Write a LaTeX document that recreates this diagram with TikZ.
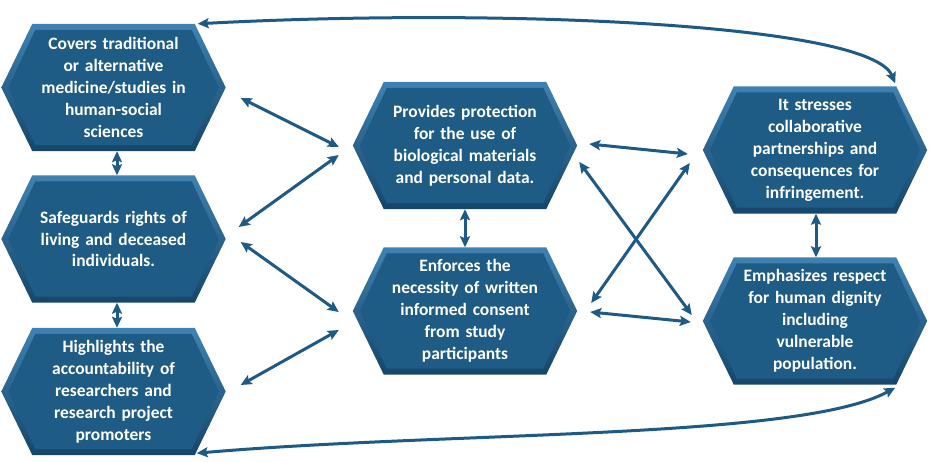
\documentclass[tikz,border=0pt]{standalone}
\usepackage{fontspec}
\setmainfont{Carlito}
\usepackage{tikz}
\usetikzlibrary{arrows.meta,positioning,backgrounds}
\definecolor{hxblue}{HTML}{1E5C86}
\definecolor{hxlight}{HTML}{3F82B2}
\definecolor{hxdark}{HTML}{15466A}
\definecolor{arblue}{HTML}{1D5A86}

\begin{document}
\begin{tikzpicture}[x=1bp,y=-1bp,
  hexa/.style={minimum width=224bp,minimum height=127bp,inner sep=0pt,text width=190bp,align=center,text=white,font=\fontsize{17.5}{22}\selectfont\bfseries},
  ar/.style={{Stealth[length=11bp,width=10bp,inset=2bp]}-{Stealth[length=11bp,width=10bp,inset=2bp]},arblue,line width=3bp}]
\useasboundingbox (0,0) rectangle (936,462);
\node[hexa] (cov) at (113.5,87.5) {Covers traditional\\or alternative\\medicine/studies in\\human-social\\sciences};
\node[hexa] (saf) at (113.5,239) {Safeguards rights of\\living and deceased\\individuals.};
\node[hexa] (acc) at (113.5,391.5) {Highlights the\\accountability of\\researchers and\\research project\\promoters};
\node[hexa] (pro) at (465,145.5) {Provides protection\\for the use of\\biological materials\\and personal data.};
\node[hexa] (enf) at (465,311) {Enforces the\\necessity of written\\informed consent\\from study\\participants};
\node[hexa] (str) at (815,150) {It stresses\\collaborative\\partnerships and\\consequences for\\infringement.};
\node[hexa] (emp) at (815,321) {Emphasizes respect\\for human dignity\\including\\vulnerable\\population.};
\begin{scope}[on background layer]
\foreach \n in {cov,saf,acc,pro,enf,str,emp}{
  \shade[top color=hxlight,bottom color=hxdark] (\n.west) -- ([shift={(31,0)}]\n.north west) -- ([shift={(-31,0)}]\n.north east) -- (\n.east) -- ([shift={(-31,0)}]\n.south east) -- ([shift={(31,0)}]\n.south west) -- cycle;
  \fill[hxblue] ([shift={(7,0)}]\n.west) -- ([shift={(34,6)}]\n.north west) -- ([shift={(-34,6)}]\n.north east) -- ([shift={(-7,0)}]\n.east) -- ([shift={(-34,-6)}]\n.south east) -- ([shift={(34,-6)}]\n.south west) -- cycle;
}
\end{scope}
\draw[ar] ([shift={(3.5,0)}]cov.south) -- ([shift={(3.5,0)}]saf.north);
\draw[ar] ([shift={(3.5,0)}]saf.south) -- ([shift={(3.5,0)}]acc.north);
\draw[ar] (pro.south) -- (enf.north);
\draw[ar] ([shift={(1,0)}]str.south) -- ([shift={(1,0)}]emp.north);
\draw[ar] ([shift={(15,10.5)}]cov.east) -- ([shift={(-14,1.5)}]pro.west);
\draw[ar] ([shift={(13,-12)}]saf.east) -- ([shift={(-14,9.5)}]pro.west);
\draw[ar] ([shift={(15,3)}]saf.east) -- ([shift={(-14,1)}]enf.west);
\draw[ar] ([shift={(15,-6.5)}]acc.east) -- ([shift={(-14,19)}]enf.west);
\draw[ar] ([shift={(12,-1.5)}]pro.east) -- ([shift={(-15,4)}]str.west);
\draw[ar] ([shift={(2,16.5)}]pro.east) -- ([shift={(-11,-6)}]emp.west);
\draw[ar] ([shift={(-13,13)}]str.west) -- ([shift={(14,-8)}]enf.east);
\draw[ar] ([shift={(13,1)}]enf.east) -- ([shift={(-12,1)}]emp.west);
\draw[ar] ([shift={(-28,0)}]cov.north east) .. controls +(300,-16) and +(-25,-60) .. ([shift={(-32,-3)}]str.north east);
\draw[ar] ([shift={(-29,-2)}]acc.south east) .. controls +(254,-22) and +(-95,52) .. ([shift={(-32,3)}]emp.south east);
\end{tikzpicture}
\end{document}
